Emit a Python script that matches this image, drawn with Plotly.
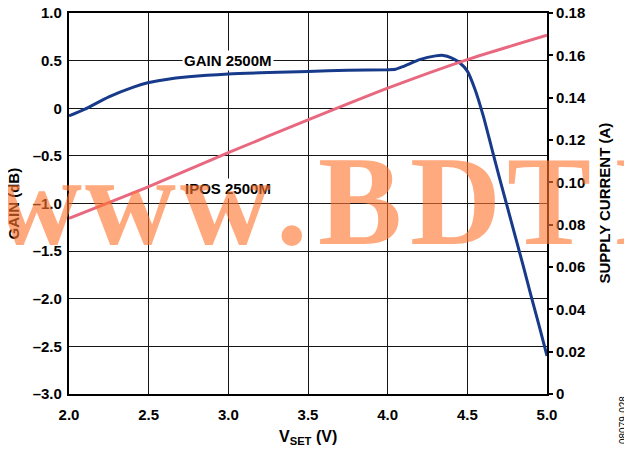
import plotly.graph_objects as go

# ---- data ----
vset_gain = [2.0, 2.1, 2.25, 2.4, 2.5, 2.6, 2.75, 3.0, 3.25, 3.5, 3.75, 4.0, 4.05, 4.1, 4.2,
             4.3, 4.35, 4.4, 4.45, 4.5, 4.55, 4.6, 4.65, 4.7, 4.75, 4.8, 4.85, 4.9, 4.95, 5.0]
gain_db = [-0.08, -0.01, 0.12, 0.22, 0.27, 0.30, 0.33, 0.36, 0.375, 0.385, 0.40, 0.405, 0.41, 0.44, 0.51,
           0.55, 0.555, 0.53, 0.48, 0.39, 0.19, -0.08, -0.40, -0.72, -1.03, -1.34, -1.65, -1.97, -2.28, -2.6]

vset_ipos = [2.0, 2.5, 3.0, 3.5, 4.0, 4.5, 5.0]
ipos_a = [0.083, 0.098, 0.114, 0.1295, 0.1445, 0.158, 0.1695]

x_ticks = [2.0, 2.5, 3.0, 3.5, 4.0, 4.5, 5.0]
x_labels = ["2.0", "2.5", "3.0", "3.5", "4.0", "4.5", "5.0"]
gain_ticks = [1.0, 0.5, 0, -0.5, -1.0, -1.5, -2.0, -2.5, -3.0]
gain_labels = ["1.0", "0.5", "0", "\u20130.5", "\u20131.0", "\u20131.5", "\u20132.0", "\u20132.5", "\u20133.0"]
cur_ticks = [0, 0.02, 0.04, 0.06, 0.08, 0.10, 0.12, 0.14, 0.16, 0.18]
cur_labels = ["0", "0.02", "0.04", "0.06", "0.08", "0.10", "0.12", "0.14", "0.16", "0.18"]

# watermark letters and their horizontal offsets (px from plot's left edge)
wm_letters = ["w", "w", "w", ".", "B", "D", "T", "I"]
wm_offsets = [-33, 61, 156, 223, 291, 386, 480, 568]

FONT = "Liberation Sans, Arial, sans-serif"
SERIF = "Liberation Serif, Times New Roman, serif"
TICKFONT = dict(family=FONT, size=15, color="black", weight="bold")

fig = go.Figure()
fig.add_trace(go.Scatter(x=vset_ipos, y=ipos_a, mode="lines", yaxis="y2",
                         line=dict(color="#E8687F", width=3, shape="spline", smoothing=0.6),
                         hoverinfo="skip", showlegend=False))
fig.add_trace(go.Scatter(x=vset_gain, y=gain_db, mode="lines",
                         line=dict(color="#173A8A", width=3, shape="spline", smoothing=0.6),
                         hoverinfo="skip", showlegend=False))

fig.update_layout(
    width=632, height=453,
    margin=dict(l=61, r=93, t=5, b=67),
    paper_bgcolor="white", plot_bgcolor="white",
    font=dict(family=FONT, size=14, color="black"),
    xaxis=dict(range=[2.0, 5.0], tickvals=x_ticks, ticktext=x_labels,
               showgrid=True, gridcolor="#151515", gridwidth=1.3,
               showline=True, linecolor="black", linewidth=2.2, mirror=True,
               ticks="", tickfont=TICKFONT, ticklabelstandoff=6, ticklabeloverflow="allow",
               automargin=False, zeroline=False, fixedrange=True),
    yaxis=dict(range=[-3.0, 1.0], tickvals=gain_ticks, ticktext=gain_labels,
               showgrid=True, gridcolor="#151515", gridwidth=1.3,
               showline=True, linecolor="black", linewidth=2.2, mirror=True,
               ticks="", tickfont=TICKFONT, ticklabelstandoff=2, ticklabeloverflow="allow",
               automargin=False, zeroline=False, fixedrange=True),
    yaxis2=dict(range=[0, 0.18], tickvals=cur_ticks, ticktext=cur_labels,
                overlaying="y", side="right", showgrid=False, zeroline=False,
                showline=True, linecolor="black", linewidth=2.2,
                ticks="outside", ticklen=4, tickwidth=2, tickcolor="black",
                tickfont=TICKFONT, ticklabeloverflow="allow",
                automargin=False, fixedrange=True),
)

# axis titles
fig.add_annotation(x=0, y=0.5, xref="paper", yref="paper", xanchor="center", yanchor="middle",
                   xshift=-56, text="<b>GAIN (dB)</b>", textangle=-90, showarrow=False,
                   font=dict(family=FONT, size=15, color="black"))
fig.add_annotation(x=1, y=0.5, xref="paper", yref="paper", xanchor="center", yanchor="middle",
                   xshift=57, text="<b>SUPPLY CURRENT (A)</b>", textangle=-90, showarrow=False,
                   font=dict(family=FONT, size=15, color="black"))
fig.add_annotation(x=0.5, y=0, xref="paper", yref="paper", xanchor="center", yanchor="middle",
                   yshift=-43, text="<b>V<sub>SET</sub> (V)</b>", showarrow=False,
                   font=dict(family=FONT, size=16, color="black"))
fig.add_annotation(x=1, y=0, xref="paper", yref="paper", xanchor="center", yanchor="middle",
                   xshift=76, yshift=-26, text="08079-028", textangle=-90, showarrow=False,
                   font=dict(family=FONT, size=10, color="black"))

# curve labels
fig.add_annotation(x=3.0, y=0.5, xref="x", yref="y", text="<b>GAIN 2500M</b>",
                   showarrow=False, bgcolor="white", font=dict(family=FONT, size=15, color="black"),
                   borderpad=1)
fig.add_annotation(x=3.0, y=-0.84, xref="x", yref="y", text="<b>IPOS 2500M</b>",
                   showarrow=False, bgcolor="white", font=dict(family=FONT, size=15, color="black"),
                   borderpad=1)

# watermark
WM = dict(family=SERIF, size=126, color="rgba(255,117,47,0.62)")
for ch, off in zip(wm_letters, wm_offsets):
    fig.add_annotation(x=0, y=0, xref="paper", yref="paper", xanchor="center", yanchor="middle",
                       xshift=off, yshift=193, text="<b>" + ch + "</b>", showarrow=False, font=WM)

fig.write_html("out.html")
